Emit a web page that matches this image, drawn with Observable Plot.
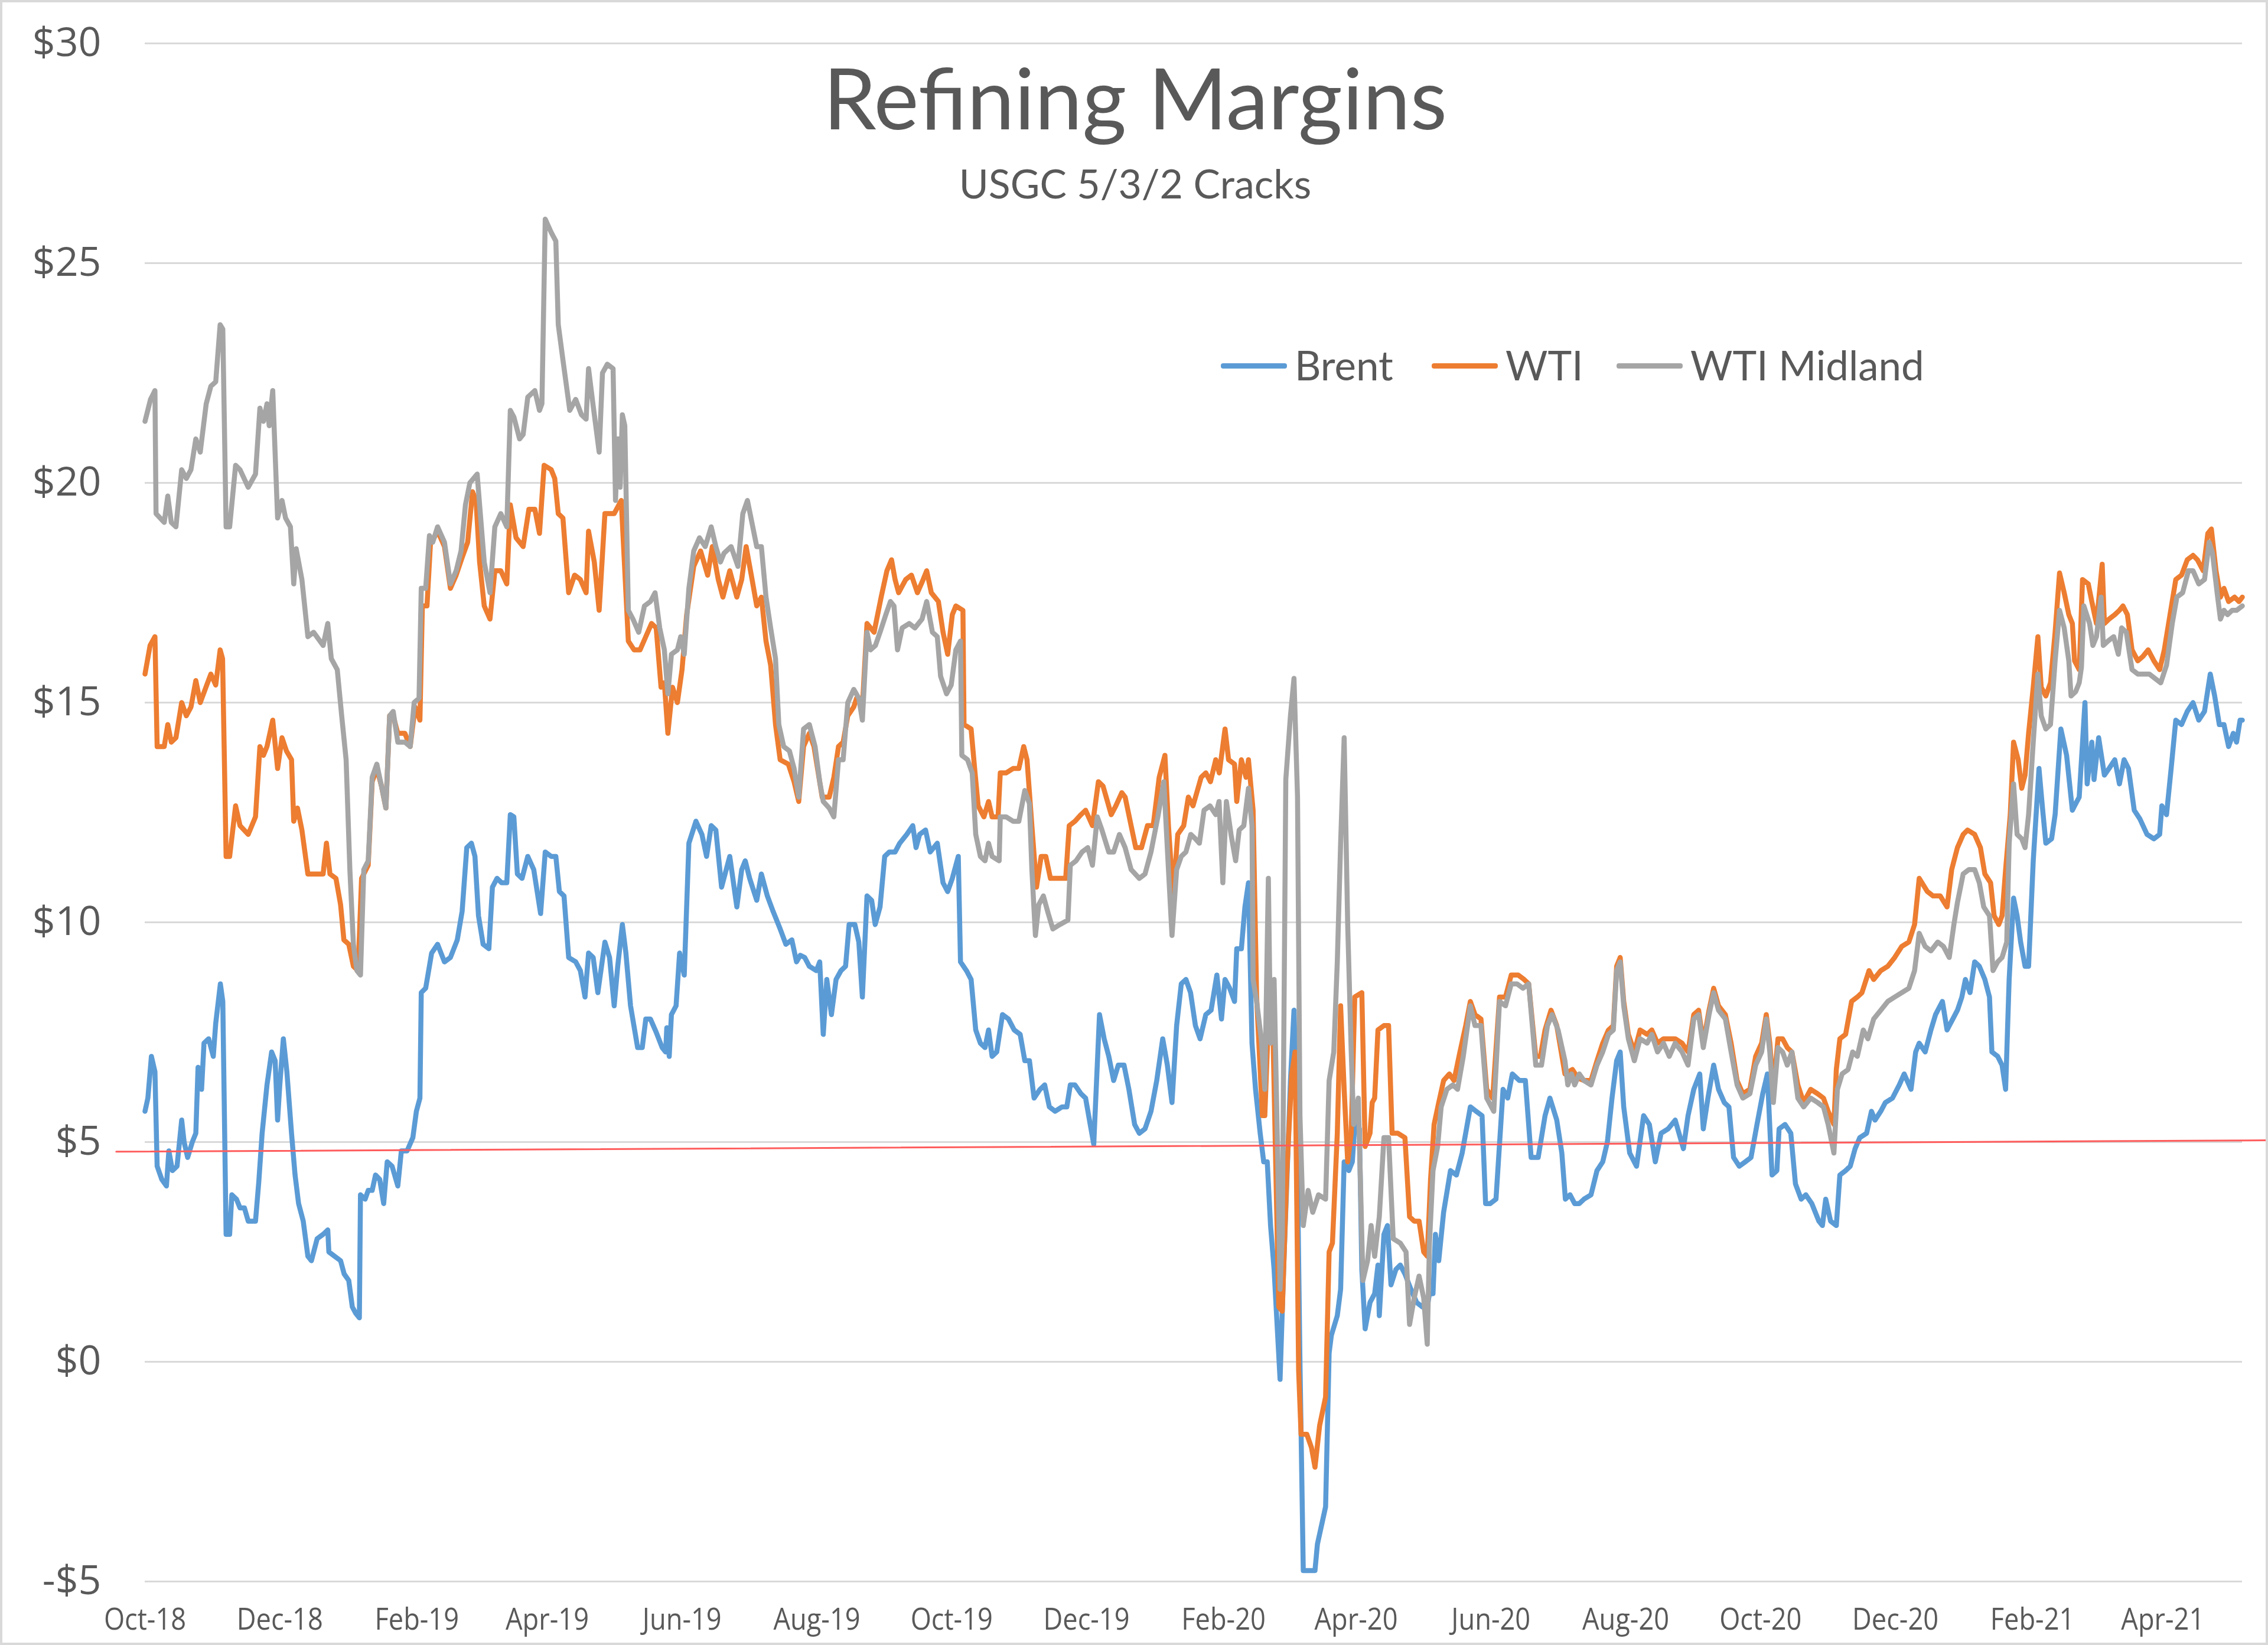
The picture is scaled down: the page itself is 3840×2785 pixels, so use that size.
<!DOCTYPE html>
<html>
<head>
<meta charset="utf-8">
<script src="https://cdn.jsdelivr.net/npm/d3@7"></script>
<script src="https://cdn.jsdelivr.net/npm/@observablehq/plot@0.6"></script>
<style>
  html, body { margin: 0; padding: 0; background: #fff; }
  #wrap { position: relative; width: 3840px; height: 2785px; overflow: hidden; background: #fff; }
  #chart svg { display: block; }
  .ttl { position: absolute; left: 0; width: 3844px; text-align: center; font-family: Lato, "Open Sans", sans-serif; color: #595959; line-height: 1; white-space: nowrap; }
  #title { top: 92px; font-size: 144px; }
  #subtitle { top: 276px; font-size: 68px; }
  .leg { position: absolute; top: 583px; height: 70px; font-family: Lato, "Open Sans", sans-serif; font-size: 69px; line-height: 1; color: #595959; white-space: nowrap; }
  .leg .sw { position: absolute; left: 0; top: 32px; width: 112px; height: 9px; border-radius: 4px; }
  .leg .lb { position: absolute; left: 125px; top: 0; }
  #frame { position: absolute; left: 0; top: 0; width: 3840px; height: 2785px; box-sizing: border-box; border: 4px solid #d9d9d9; pointer-events: none; }
</style>
</head>
<body>
<div id="wrap">
  <div id="chart"></div>
  <div id="title" class="ttl">Refining Margins</div>
  <div id="subtitle" class="ttl">USGC 5/3/2 Cracks</div>
  <div id="legend"></div>
  <div id="frame"></div>
</div>
<script>
// ---- data (day offset from 2018-10-01, $/bbl) ----
const START_DATE = "2018-10-01";
const seriesNames = ["Brent", "WTI", "WTI Midland"];
const seriesColors = ["#5B9BD5", "#ED7D31", "#A5A5A5"];

const brent = [[0,5.7],[1.3,6.0],[2.9,6.95],[4.5,6.6],[5.5,4.45],[7.6,4.15],[9.7,4.0],[10.8,4.8],[12.4,4.35],[14.5,4.45],[16.6,5.5],[17.7,5.0],[19.3,4.65],[21.4,5.0],[23,5.2],[24,6.7],[25.6,6.2],[26.7,7.25],[28.8,7.35],[30.9,6.95],[32,7.7],[34.1,8.6],[35.2,8.2],[36.7,2.9],[38.3,2.9],[39.3,3.8],[41.4,3.7],[43,3.5],[45,3.5],[46.7,3.2],[50,3.2],[51.5,4.1],[53,5.2],[55.2,6.3],[57.3,7.05],[58.9,6.85],[60,5.5],[61,6.3],[62.6,7.35],[64.2,6.6],[66.3,5.2],[67.9,4.25],[69.5,3.6],[71.6,3.2],[73.7,2.4],[75.3,2.3],[77.9,2.8],[80.6,2.9],[82.7,3.0],[83.2,2.5],[85.8,2.4],[88.5,2.3],[90.1,2.0],[92.2,1.85],[93.8,1.25],[95.4,1.1],[97,1.0],[97.5,3.8],[99.6,3.7],[101,3.9],[102.8,3.9],[104.3,4.25],[106.2,4.15],[108,3.6],[109.6,4.55],[111.8,4.45],[114.4,4.0],[116,4.8],[118.6,4.8],[121.2,5.1],[122.8,5.7],[124.4,6.0],[125,8.4],[127,8.5],[129.7,9.3],[132.4,9.5],[135.5,9.1],[138.2,9.2],[141.3,9.6],[143.5,10.25],[145.6,11.7],[147.7,11.8],[149.3,11.5],[150.9,10.15],[153,9.5],[155.6,9.4],[157.2,10.8],[159.3,11.0],[161.4,10.9],[163.7,10.9],[165.3,12.45],[166.9,12.4],[168.5,11.1],[170.6,11.0],[173.2,11.5],[175.9,11.2],[179,10.2],[181.1,11.6],[183.8,11.5],[185.9,11.5],[187.5,10.7],[189.6,10.6],[191.7,9.2],[194.9,9.1],[197,8.9],[199.1,8.3],[200.7,9.3],[202.8,9.2],[204.9,8.4],[208.1,9.55],[210.2,9.2],[212.3,8.1],[213.9,9.0],[216,9.95],[217.6,9.3],[219.7,8.1],[222.9,7.15],[225,7.15],[226.6,7.8],[228.7,7.8],[231.3,7.5],[234,7.15],[235.6,7.05],[236.1,7.6],[237.2,6.95],[238.2,7.9],[240.3,8.1],[241.9,9.3],[244,8.8],[246.1,11.8],[249.3,12.3],[252,12.0],[254.1,11.5],[256.2,12.2],[258.3,12.1],[260.9,10.8],[263,11.2],[264.6,11.5],[267.8,10.35],[270,11.2],[271.6,11.4],[273.6,11.0],[276.8,10.5],[278.9,11.1],[281.6,10.6],[284.2,10.25],[287.4,9.85],[290,9.5],[292.7,9.6],[294.8,9.1],[296.5,9.25],[298.5,9.2],[300.6,9.0],[303.8,8.9],[305.3,9.1],[306.9,7.45],[308.5,8.7],[310.6,7.9],[312.7,8.7],[314.9,8.9],[317,9.0],[318.6,9.95],[321.2,9.95],[323,9.55],[324.6,8.3],[326.7,10.6],[328.8,10.5],[330.4,9.95],[332.6,10.35],[334.7,11.5],[336.8,11.6],[339.4,11.6],[341.5,11.8],[344.7,12.0],[347.4,12.2],[348.9,11.7],[350.5,12.0],[353.2,12.1],[355.3,11.6],[358.5,11.8],[361.1,10.9],[363.2,10.7],[365.3,11.0],[368,11.5],[369,9.1],[371.7,8.9],[373.8,8.7],[375.9,7.55],[378,7.25],[380.1,7.15],[381.7,7.55],[383.3,6.95],[385.4,7.05],[388,7.9],[390.7,7.8],[393.3,7.55],[396,7.45],[398.1,6.85],[400.2,6.85],[402.3,6.0],[405,6.2],[407.1,6.3],[409.2,5.8],[411.8,5.7],[415,5.8],[417.1,5.8],[418.7,6.3],[420.8,6.3],[423.5,6.1],[425.6,6.0],[427.7,5.4],[429.3,4.95],[431.9,7.9],[434,7.35],[436.1,6.95],[438.3,6.4],[440.4,6.75],[443,6.75],[445.2,6.2],[447.8,5.4],[449.9,5.2],[452.5,5.3],[455.2,5.7],[457.8,6.4],[460.5,7.35],[462.6,6.75],[464.7,5.9],[466.8,7.65],[468.9,8.6],[471,8.7],[473.1,8.4],[475.3,7.65],[477.4,7.35],[480,7.9],[482.4,8.0],[485,8.8],[487.1,7.8],[488.7,8.7],[490.8,8.5],[493,8.2],[494,9.4],[496.1,9.4],[497.7,10.35],[499.3,10.9],[500.9,7.25],[502.5,6.2],[504.6,5.2],[506.2,4.55],[507.8,4.55],[509.3,3.1],[510.9,2.1],[513.6,-0.4],[515.2,2.1],[516.7,4.15],[518.3,6.4],[519.9,8.0],[521,6.2],[522.6,0],[524.1,-4.75],[526.8,-4.75],[529.4,-4.75],[530.5,-4.15],[534.2,-3.3],[535.8,0.2],[536.8,0.6],[539.5,1.05],[541,1.65],[542.6,4.55],[544.7,4.35],[546.3,4.55],[547.4,5.4],[549.5,5.3],[550.6,2.1],[552.1,0.75],[554.3,1.35],[556.4,1.55],[557.9,2.2],[558.5,1.05],[560.6,2.9],[562.2,3.1],[563.8,1.75],[566,2.1],[568,2.2],[570.1,2.0],[572.8,1.65],[575.4,1.35],[578,1.25],[580.2,1.25],[581.2,1.55],[582.8,1.55],[583.9,2.9],[585.4,2.3],[587.6,3.4],[590.7,4.35],[593.4,4.25],[596,4.75],[599.7,5.8],[602.3,5.7],[605,5.6],[606.6,3.6],[608.7,3.6],[611.3,3.7],[614.5,6.2],[616.6,6.0],[618.7,6.55],[621.9,6.4],[624.6,6.4],[627.2,4.65],[630.4,4.65],[633.5,5.6],[635.7,6.0],[638.8,5.5],[641.1,4.75],[642.7,3.7],[644.8,3.8],[646.9,3.6],[649,3.6],[651.1,3.7],[654.3,3.8],[657,4.35],[659.6,4.55],[661.7,5.0],[663.8,6.0],[665.9,6.85],[667.5,7.05],[669.1,5.8],[671.8,4.75],[674.9,4.45],[678.1,5.6],[680.7,5.4],[683.4,4.55],[686,5.2],[689.2,5.3],[692.4,5.5],[696.1,4.85],[698.2,5.6],[700.8,6.2],[703.5,6.55],[705.1,5.3],[707.2,6.0],[709.8,6.75],[712,6.2],[714.6,5.9],[716.7,5.8],[718.8,4.65],[721.4,4.45],[724.1,4.55],[726.7,4.65],[729.4,5.4],[732,6.1],[734.1,6.55],[736.2,4.25],[738.4,4.35],[739.4,5.3],[742.1,5.4],[744.7,5.2],[746.8,4.05],[749.4,3.7],[751.5,3.8],[754.2,3.6],[757.4,3.2],[759,3.1],[760.5,3.7],[762.7,3.2],[765.3,3.1],[766.9,4.25],[769.5,4.35],[771.6,4.45],[773.8,4.85],[775.9,5.1],[779,5.2],[781.2,5.7],[782.8,5.5],[785.4,5.7],[787.5,5.9],[790.7,6.0],[793.8,6.3],[796,6.55],[799.1,6.2],[801.2,7.05],[802.8,7.25],[805.5,7.05],[808.1,7.55],[810.2,7.9],[813.3,8.2],[815.4,7.55],[818,7.8],[820.1,8.0],[822.1,8.3],[823.7,8.7],[825.8,8.4],[827.9,9.1],[830,9.0],[832.5,8.7],[834.6,8.3],[835.7,7.05],[838.3,6.95],[840.3,6.75],[841.9,6.2],[843.5,8.7],[845.5,10.55],[847.1,10.15],[848.7,9.55],[850.7,9.0],[852.3,9.0],[854.4,11.4],[857,13.5],[858.5,12.65],[860.1,11.8],[862.7,11.9],[864.3,12.45],[866.9,14.4],[869.5,13.8],[872.1,12.55],[873.1,12.65],[875.2,12.85],[877.8,15.0],[878.8,13.15],[880.9,14.1],[881.9,13.25],[884,14.2],[886.6,13.35],[888.7,13.5],[891.3,13.7],[893.4,13.15],[895.5,13.7],[897.5,13.5],[900.1,12.55],[902.7,12.35],[905.9,12.0],[909,11.9],[911.6,12.0],[912.6,12.65],[914.7,12.45],[916.8,13.5],[918.9,14.6],[921.5,14.5],[924.1,14.8],[926.7,15.0],[929.3,14.6],[931.9,14.8],[934.5,15.65],[936.5,15.15],[938.6,14.5],[940.7,14.5],[942.8,14.0],[944.9,14.3],[946.4,14.1],[948,14.6],[949,14.6]];

const wti = [[0,15.65],[2.3,16.3],[4.5,16.5],[5.5,14.0],[8.7,14.0],[10.3,14.5],[11.9,14.1],[14,14.2],[16.6,15.0],[18.7,14.7],[20.8,14.9],[23,15.5],[25,15.0],[27.2,15.3],[29.8,15.65],[32,15.4],[34,16.2],[35.1,16.0],[36.7,11.5],[38.3,11.5],[41,12.65],[43,12.2],[46.7,12.0],[50,12.4],[52,14.0],[53.6,13.8],[55.2,14.0],[57.8,14.6],[60,13.5],[62,14.2],[64,13.9],[66.3,13.7],[67.3,12.3],[69,12.6],[71,12.1],[73.7,11.1],[76.3,11.1],[80.6,11.1],[82.1,11.8],[83.7,11.1],[86.4,11.0],[88.5,10.4],[90,9.6],[92.2,9.5],[94.3,9.0],[96.4,8.9],[98,11.0],[101,11.3],[102.8,13.2],[104.9,13.5],[107,13.1],[109,12.6],[110.7,14.7],[112.3,14.7],[114.4,14.3],[117.6,14.3],[120,14.0],[122.2,14.9],[124.4,14.6],[125.5,17.2],[127.6,17.2],[129.2,18.65],[130.8,18.75],[132.4,18.9],[135.5,18.55],[138.2,17.6],[140.8,17.9],[143.5,18.3],[146,18.65],[148.2,19.8],[149.8,19.6],[151.4,18.2],[153.5,17.2],[156.1,16.9],[158.3,18.0],[161,18.0],[163.7,17.7],[165.3,19.5],[167.9,18.75],[171.1,18.55],[173.7,19.4],[176.4,19.4],[178.5,18.85],[180.6,20.4],[183.8,20.3],[185.4,20.1],[187,19.3],[189.1,19.2],[191.7,17.5],[194.4,17.9],[197,17.8],[199.6,17.5],[200.7,18.9],[203.3,18.2],[205.5,17.1],[208.1,19.3],[212.3,19.3],[215.5,19.6],[218.7,16.4],[221.3,16.2],[224,16.2],[226.6,16.5],[229.2,16.8],[231.3,16.7],[233.5,15.35],[235,15.45],[236.6,14.3],[238.7,15.35],[240.9,15.0],[243,15.75],[245.1,17.0],[248.3,18.1],[251.4,18.45],[254.6,17.9],[256.7,18.55],[259.4,17.8],[261.5,17.4],[264.6,18.0],[267.8,17.4],[270,17.8],[272,18.55],[274.7,17.8],[276.8,17.2],[278.9,17.4],[281,16.4],[283.1,15.85],[285.3,14.5],[287.4,13.7],[291.1,13.6],[293.7,13.2],[295.8,12.75],[298,14.0],[300.6,14.3],[302.7,14.0],[306.4,12.85],[309.6,12.85],[311.7,13.3],[313.8,14.0],[315.9,14.1],[318,14.7],[320.7,14.9],[322,15.1],[324.6,14.9],[326.7,16.8],[329.9,16.6],[333.1,17.4],[335.7,18.0],[337.8,18.25],[339.4,17.8],[341,17.5],[344.2,17.8],[346.8,17.9],[349.5,17.5],[352.1,17.8],[353.7,18.0],[355.8,17.5],[359,17.3],[361.1,16.6],[363.2,16.1],[365.3,17.0],[366.9,17.2],[370.1,17.1],[370.6,14.5],[373.8,14.4],[375.4,13.5],[377,12.65],[379.6,12.4],[381.7,12.75],[383.3,12.4],[386,12.4],[387,13.4],[389.6,13.4],[392.8,13.5],[395.4,13.5],[397.6,14.0],[399.1,13.7],[401.3,12.2],[403.4,10.8],[405.5,11.5],[407.6,11.5],[409.7,11.0],[412,11.0],[416.6,11.0],[418.2,12.2],[420.8,12.3],[423.5,12.45],[425.6,12.55],[428.7,12.2],[431.4,13.2],[433.5,13.1],[437.2,12.45],[439.3,12.65],[442,12.95],[443.5,12.85],[446.2,12.2],[448.3,11.7],[450.9,11.7],[453.6,12.2],[456.2,12.2],[458.9,13.3],[461.5,13.8],[463.1,12.2],[465.2,10.6],[467.3,12.0],[470,12.2],[472.1,12.85],[474.2,12.65],[477.9,13.3],[480,13.4],[482.1,13.2],[484.5,13.7],[486.1,13.4],[488.7,14.4],[490.3,13.7],[493,13.6],[494,12.75],[496.1,13.7],[498.2,13.3],[499.3,13.7],[501.4,12.55],[503,8.3],[505.6,5.6],[506.7,5.6],[508.8,8.4],[510.4,7.45],[513,1.25],[514.6,1.15],[516.7,4.35],[518.9,6.55],[520.4,7.05],[522,-0.2],[523.1,-1.65],[525.7,-1.65],[527.8,-1.95],[529.4,-2.4],[531.5,-1.45],[534.2,-0.8],[535.8,2.5],[537.3,2.7],[539.5,5.2],[541,8.1],[542.6,6.2],[544.2,4.55],[545.8,5.2],[547.4,8.3],[550.6,8.4],[552.1,4.9],[554.3,5.2],[555.3,5.9],[556.4,6.0],[557.9,7.55],[560.6,7.65],[562.7,7.65],[564.3,5.2],[566.9,5.2],[570.1,5.1],[572.2,3.3],[574.3,3.2],[576.5,3.2],[578.6,2.5],[580.2,2.4],[581.7,4.15],[583.3,5.4],[585.4,5.9],[587.6,6.4],[590.2,6.55],[592.3,6.4],[595,7.05],[597.6,7.65],[599.7,8.2],[601.8,7.9],[604.5,7.8],[607.1,6.2],[609.8,6.0],[612.9,8.3],[615.6,8.3],[618.2,8.8],[621.4,8.8],[624,8.7],[626.1,8.6],[629.3,6.95],[631.4,6.95],[633.5,7.55],[636.2,8.0],[638.8,7.65],[642.5,6.55],[645.9,6.65],[648.5,6.45],[651.1,6.4],[654.3,6.4],[657,6.85],[659.6,7.25],[662.2,7.55],[664.4,7.65],[665.9,9.0],[667.5,9.2],[669.1,8.2],[671.2,7.45],[673.9,7.05],[676.5,7.55],[679.7,7.45],[681.8,7.55],[684.4,7.25],[687.1,7.35],[689.7,7.35],[692.4,7.35],[695.5,7.25],[698.2,7.05],[700.8,7.9],[703,8.0],[705.1,7.25],[707.7,8.0],[709.8,8.5],[712,8.1],[715.1,7.9],[717.7,7.25],[720.4,6.4],[723,6.1],[726.2,6.2],[728.8,6.95],[731.5,7.25],[733.6,7.9],[735.2,7.25],[736.8,6.2],[738.9,7.35],[741,7.35],[743.1,7.15],[745.2,7.05],[747.9,6.3],[750.5,5.9],[753.7,6.2],[756.8,6.1],[759.5,6.0],[761.6,5.7],[764.2,5.4],[765.3,6.65],[766.9,7.35],[769.5,7.45],[772.2,8.2],[774.8,8.3],[776.9,8.4],[780.1,8.9],[782.2,8.7],[785.4,8.9],[788.6,9.0],[791.7,9.2],[794.9,9.45],[798.1,9.55],[800.7,9.95],[802.8,11.0],[806.5,10.7],[809.1,10.6],[812.3,10.6],[815.4,10.35],[817.5,11.2],[820.1,11.7],[822.7,12.0],[824.7,12.1],[827.9,12.0],[830.5,11.7],[832.5,11.1],[835.1,10.9],[836.7,10.15],[838.8,9.95],[840.3,10.15],[841.9,11.2],[844,12.45],[845.5,14.1],[847.6,13.7],[849.2,13.05],[850.7,13.35],[852.3,14.3],[854.4,15.35],[856.5,16.5],[858,15.35],[860.1,15.15],[862.2,15.45],[864.3,16.6],[866.3,17.95],[868.4,17.5],[870.5,17.0],[872.1,16.8],[873.1,15.95],[875.2,15.75],[876.7,17.8],[879.3,17.7],[880.9,17.3],[883,16.8],[885.6,18.15],[886.6,16.8],[888.7,16.9],[891.3,17.0],[893.4,17.1],[895,17.2],[897,17.0],[899.1,16.2],[901.7,15.95],[904,16.05],[906.4,16.2],[909,15.95],[911.6,15.75],[913.7,16.2],[916.3,17.0],[918.9,17.8],[921.5,17.9],[924.1,18.25],[926.7,18.35],[928.7,18.25],[931.3,18.0],[933.4,18.85],[935,18.95],[937.1,18.0],[939.1,17.4],[940.7,17.6],[942.8,17.3],[945.5,17.4],[947.5,17.3],[949,17.4]];

const midland = [[0,21.4],[2.5,21.9],[4.5,22.1],[5,19.3],[8.7,19.1],[10.3,19.7],[11.9,19.1],[14,19.0],[16.6,20.3],[18.7,20.1],[20.8,20.3],[23,21.0],[25,20.7],[27.7,21.8],[29.8,22.2],[32,22.3],[34,23.6],[35.2,23.5],[36.7,19.0],[38.3,19.0],[41,20.4],[43,20.3],[46.7,19.9],[50,20.2],[52,21.7],[53.6,21.4],[55.2,21.8],[56.2,21.3],[57.8,22.1],[60,19.2],[62,19.6],[63.6,19.2],[65.8,19.0],[67.3,17.7],[68.4,18.5],[71,17.8],[73.7,16.5],[76.3,16.6],[80.6,16.3],[82.7,16.8],[84.3,16.0],[87,15.75],[89,14.7],[91,13.7],[92.7,11.2],[94.3,9.5],[95.9,8.9],[97.5,8.8],[99,11.2],[101,11.4],[102.8,13.3],[104.9,13.6],[107,13.1],[109,12.6],[110.7,14.7],[112.3,14.8],[114.4,14.1],[117.6,14.1],[120,14.0],[121.8,15.0],[124,15.1],[125,17.6],[127,17.6],[128.7,18.8],[130.2,18.65],[132.4,19.0],[135.5,18.65],[138.2,17.7],[140.8,18.0],[143,18.45],[145,19.5],[147,20.0],[150.3,20.2],[151.4,19.5],[153.5,18.2],[156.1,17.5],[158.3,19.0],[161,19.3],[163.7,19.0],[165.3,21.65],[166.9,21.5],[169.5,21.0],[171.1,21.1],[173.2,21.95],[176.4,22.1],[178.5,21.65],[179.6,21.8],[181.1,26.0],[183.8,25.7],[185.9,25.5],[187,23.6],[189.1,22.8],[192.2,21.65],[194.9,21.9],[197.5,21.55],[199.6,21.45],[200.7,22.6],[202.8,21.75],[205.5,20.7],[207,22.5],[209.2,22.7],[211.8,22.6],[212.9,19.6],[214,21.0],[215,19.9],[216,21.55],[217.1,21.3],[218.7,17.1],[220.8,16.9],[223.4,16.6],[226,17.2],[228.7,17.3],[230.8,17.5],[232.9,16.7],[235,16.2],[236.6,15.2],[238.2,16.1],[240.9,16.2],[242.4,16.5],[244,16.1],[246.1,17.6],[248.3,18.45],[250.9,18.75],[253.5,18.55],[256.2,19.0],[258.3,18.55],[260.4,18.2],[262,18.4],[265.2,18.55],[268.3,18.1],[270.5,19.3],[272.6,19.6],[274.2,19.2],[276.8,18.55],[278.9,18.55],[281,17.4],[283.1,16.7],[285.3,16.0],[286.8,14.5],[289,14.0],[291.6,13.9],[293.7,13.5],[295.8,12.85],[298,14.4],[300.6,14.5],[303.2,14.0],[305.3,13.2],[306.9,12.75],[309.6,12.6],[311.7,12.4],[313.8,13.7],[315.9,13.7],[318,15.0],[320.7,15.3],[323,15.1],[324.6,14.6],[326.7,16.6],[328.3,16.2],[330.5,16.3],[332.6,16.6],[335.2,17.0],[337.3,17.3],[338.9,17.2],[340.5,16.2],[342.6,16.7],[345.8,16.8],[348.4,16.7],[351.6,16.9],[353.7,17.3],[356.3,16.6],[358.5,16.5],[360,15.6],[362.7,15.2],[364.8,15.4],[366.9,16.2],[369,16.4],[369.6,13.8],[372.2,13.7],[374.3,13.4],[375.9,12.0],[378,11.5],[380.1,11.4],[381.7,11.8],[383.3,11.5],[386.5,11.4],[387,12.4],[389.6,12.4],[392.8,12.3],[395.4,12.3],[398.1,13.0],[400.2,12.7],[401.3,11.2],[402.9,9.7],[404.4,10.4],[406.5,10.6],[408.7,10.2],[410.8,9.85],[414,9.95],[417.6,10.05],[418.7,11.3],[421.3,11.4],[424,11.6],[426.6,11.7],[428.7,11.3],[430.9,12.4],[433,12.1],[436.1,11.6],[438.3,11.6],[440.9,12.0],[443.5,11.7],[446.2,11.2],[449.9,11.0],[452.5,11.1],[455.2,11.6],[458.3,12.4],[461,13.2],[463.1,11.2],[464.7,9.7],[466.8,11.2],[468.9,11.5],[471,11.6],[473.2,12.0],[475.3,11.9],[477.1,11.8],[479.2,12.55],[481.9,12.65],[484.5,12.45],[486,12.75],[487.7,10.9],[489.3,12.75],[491.4,12.0],[493.5,11.4],[495.1,12.1],[497.2,12.2],[499.3,13.05],[500.9,12.2],[501.4,8.7],[503,8.2],[505.1,7.35],[506.7,6.2],[508.3,11.0],[509.3,7.25],[510.9,8.7],[512.5,4.75],[513.6,1.65],[514.6,2.9],[516.2,13.25],[518.3,14.7],[519.9,15.55],[521.5,12.85],[522.6,5.6],[524.1,3.1],[526.3,3.9],[528.4,3.4],[531,3.8],[534.2,3.7],[535.8,6.4],[537.9,7.05],[539.5,9.1],[541,11.8],[542.6,14.2],[544.2,9.95],[545.8,7.05],[546.9,5.4],[549,6.0],[551.1,1.85],[553.2,2.3],[554.8,3.1],[556.4,2.4],[558.5,3.3],[560.6,5.1],[562.7,5.1],[564.8,2.8],[568,2.7],[570.6,2.5],[572.2,0.85],[574.3,1.45],[576.5,1.95],[578.6,1.45],[580.2,0.4],[581.2,2.7],[582.8,4.35],[584.9,4.9],[586.5,5.8],[589.1,6.2],[591.8,6.3],[593.9,6.2],[596.5,6.95],[599.7,8.1],[601.8,7.65],[604.5,7.65],[607.1,6.0],[610.3,5.7],[612.9,8.2],[615.6,8.1],[618.2,8.6],[620.8,8.6],[623.5,8.5],[626.1,8.6],[629.3,6.75],[631.9,6.75],[634.6,7.65],[636.7,7.9],[639.4,7.55],[642.5,6.85],[643.8,6.3],[645.5,6.55],[646.9,6.3],[649,6.55],[651.1,6.4],[654.3,6.3],[657,6.75],[659.6,7.05],[662.2,7.45],[664.4,7.55],[665.9,8.9],[667.5,9.1],[669.1,8.1],[671.2,7.35],[673.9,6.85],[676.5,7.35],[679.7,7.25],[681.8,7.45],[684.4,7.05],[687.1,7.25],[689.7,6.95],[692.4,7.25],[695.5,7.05],[698.2,6.75],[700.8,7.8],[703,7.9],[705.1,7.15],[707.7,7.9],[709.8,8.4],[712,8.0],[715.1,7.8],[717.7,7.05],[720.4,6.3],[723,6.0],[726.2,6.1],[728.8,6.75],[731.5,7.05],[733.6,7.8],[735.2,7.05],[736.8,5.9],[738.9,7.15],[741,7.05],[743.1,6.75],[745.2,7.05],[747.9,6.0],[750.5,5.8],[753.7,6.0],[756.8,5.9],[759.5,5.8],[761.6,5.4],[764.2,4.75],[765.8,6.2],[767.9,6.55],[770.6,6.65],[772.7,7.05],[774.8,6.95],[777.5,7.55],[779.6,7.35],[782.2,7.8],[785.4,8.0],[788.6,8.2],[791.7,8.3],[794.9,8.4],[798.1,8.5],[800.7,8.9],[802.8,9.75],[805.5,9.45],[808.1,9.35],[811.2,9.55],[813.8,9.45],[816.4,9.2],[818.5,9.95],[820.1,10.45],[822.7,11.1],[825.3,11.2],[827.9,11.2],[830,10.9],[832,10.35],[834.6,10.15],[836.2,8.9],[838.3,9.1],[840.3,9.2],[842.4,9.55],[843.5,11.8],[845.5,13.15],[847.1,12.0],[849.2,11.9],[850.7,11.7],[852.3,12.45],[854.4,14.1],[856.5,15.65],[858,14.7],[860.1,14.4],[862.2,14.5],[864.3,15.95],[866.3,17.1],[868.4,16.7],[870.5,15.95],[871.5,15.15],[873.6,15.25],[875.2,15.45],[876.2,15.8],[877.3,17.2],[879.9,16.8],[881.4,16.3],[883,16.5],[885.1,17.4],[886.1,16.3],[888.2,16.4],[890.8,16.5],[892.9,16.1],[894.4,16.7],[896.5,16.6],[899.1,15.75],[901.7,15.65],[904.3,15.65],[906.9,15.65],[909.5,15.55],[912.1,15.45],[914.7,15.85],[917.3,16.8],[919.4,17.4],[922,17.5],[924.6,18.0],[926.7,18.0],[929.3,17.7],[931.9,17.8],[934,18.65],[935.5,18.4],[937.6,17.5],[939.1,16.9],[940.7,17.1],[942.3,17.0],[944.4,17.1],[946.4,17.1],[949,17.2]];

// hand-drawn $5 reference line (slightly tilted in the source)
const refLine = [[-13, 4.78], [961, 5.04]];

const yTicks = [-5, 0, 5, 10, 15, 20, 25, 30];
const xTickDates = ["2018-10-01","2018-12-01","2019-02-01","2019-04-01","2019-06-01","2019-08-01","2019-10-01","2019-12-01","2020-02-01","2020-04-01","2020-06-01","2020-08-01","2020-10-01","2020-12-01","2021-02-01","2021-04-01"];
const xDomainDates = ["2018-10-01", "2021-05-07"];

// ---- build ----
const parse = d3.utcParse("%Y-%m-%d");
const start = parse(START_DATE).getTime();
const toRows = (arr) => arr.map(([d, v]) => ({date: new Date(start + d * 864e5), value: v}));
const money = v => (v < 0 ? "-$" : "$") + Math.abs(v);
const lineStyle = {x: "date", y: "value", strokeWidth: 8.5, strokeLinejoin: "round", strokeLinecap: "round"};

const chart = Plot.plot({
  width: 3840,
  height: 2785,
  marginLeft: 245,
  marginRight: 44,
  marginTop: 73,
  marginBottom: 108,
  style: {background: "transparent", fontFamily: "'Open Sans', sans-serif", color: "#595959", overflow: "visible"},
  x: {type: "utc", domain: xDomainDates.map(parse), label: null},
  y: {domain: [-5, 30], label: null},
  marks: [
    Plot.gridY(yTicks, {stroke: "#d9d9d9", strokeOpacity: 1, strokeWidth: 3}),
    Plot.axisY(yTicks, {tickSize: 0, tickPadding: 74, tickFormat: money, fontSize: 68, fill: "#595959", label: null}),
    Plot.axisX(xTickDates.map(parse), {tickSize: 0, tickPadding: 45, tickFormat: d3.utcFormat("%b-%y"), fontSize: 52, fill: "#595959", label: null}),
    Plot.line(toRows(brent), {...lineStyle, stroke: seriesColors[0]}),
    Plot.line(toRows(wti), {...lineStyle, stroke: seriesColors[1]}),
    Plot.line(toRows(midland), {...lineStyle, stroke: seriesColors[2]}),
    Plot.line(toRows(refLine), {x: "date", y: "value", stroke: "#ff5c5c", strokeWidth: 3})
  ]
});
document.getElementById("chart").append(chart);

// font sizes + condensed x labels (as in the source image)
chart.querySelectorAll('g[aria-label="y-axis tick label"]').forEach(g => g.setAttribute("font-size", 68));
chart.querySelectorAll('g[aria-label="x-axis tick label"]').forEach(g => g.setAttribute("font-size", 52));
chart.querySelectorAll('g[aria-label="x-axis tick label"] text').forEach(t => {
  const tr = t.getAttribute("transform");
  if (tr) {
    t.setAttribute("transform", tr + " scale(0.87,1)");
  } else {
    const x = t.getAttribute("x") || 0, y = t.getAttribute("y") || 0;
    t.removeAttribute("x"); t.removeAttribute("y");
    t.setAttribute("transform", `translate(${x},${y}) scale(0.87,1)`);
  }
});

// legend
const legendLeft = [2067, 2424, 2737];
const legend = document.getElementById("legend");
seriesNames.forEach((name, i) => {
  const item = document.createElement("div");
  item.className = "leg";
  item.style.left = legendLeft[i] + "px";
  const sw = document.createElement("div");
  sw.className = "sw";
  sw.style.background = seriesColors[i];
  const lb = document.createElement("div");
  lb.className = "lb";
  lb.textContent = name;
  item.append(sw, lb);
  legend.append(item);
});
</script>
</body>
</html>
